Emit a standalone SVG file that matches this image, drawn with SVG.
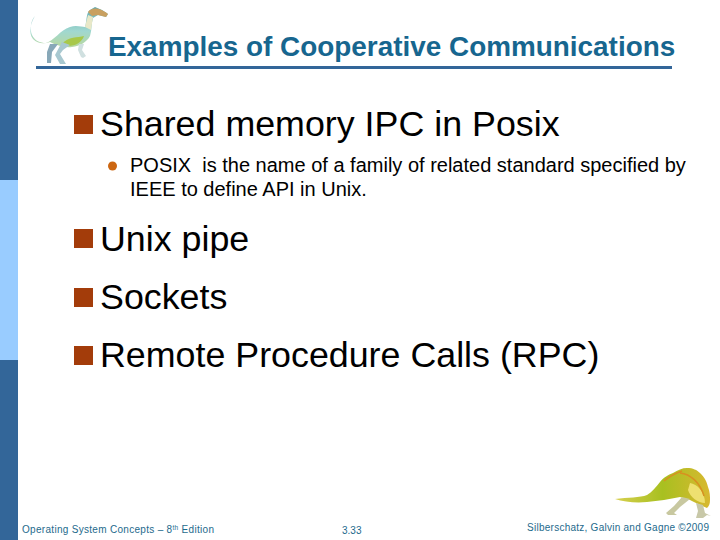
<svg xmlns="http://www.w3.org/2000/svg" width="720" height="540" viewBox="0 0 720 540">
<style>
text{font-family:"Liberation Sans",Arial,sans-serif}
.h{font-size:35.8px;fill:#000}
.s{font-size:20px;fill:#000}
.f{font-size:10px;fill:#1d6a8c}
.b{fill:#a33c0a}
</style>
<defs>
<linearGradient id="g1" x1="0" y1="0" x2="0" y2="1"><stop offset="0" stop-color="#5fa8b0"/><stop offset="0.6" stop-color="#a0d8d0"/><stop offset="1" stop-color="#b8d8a0"/></linearGradient>
<linearGradient id="g2" x1="0" y1="0" x2="1" y2="0"><stop offset="0" stop-color="#d8d050"/><stop offset="0.5" stop-color="#a8c020"/><stop offset="1" stop-color="#d8b830"/></linearGradient>
</defs>
<rect width="720" height="540" fill="#fff"/>
<rect x="0" y="0" width="18" height="180" fill="#336699"/>
<rect x="0" y="180" width="18" height="180" fill="#99ccff"/>
<rect x="0" y="360" width="18" height="180" fill="#336699"/>

<g id="dino-top">
<path d="M35 16C30 22 30 30 32 35C35 41 40 43 46 43C54 41 60 30 70 27C76 25 82 27 85 27C87 20 86 13 90 10L95 7L102 10L108 14L106 17L98 15L93 18C91 24 92 30 90 36C87 42 80 46 72 47C64 48 56 45 50 42C44 44 38 44 33 39C28 33 31 22 35 16Z" fill="url(#g1)"/>
<path d="M62 44C68 36 78 38 84 36C82 42 76 46 68 46Z" fill="#a8c84a"/>
<path d="M88 12C91 8 98 6 108 14L106 17L98 15L92 16Z" fill="#c9a060"/>
<path d="M88 15L93 17L91 30L85 27Z" fill="#e8e8c8"/>
<path d="M62 42L70 45L63 50L60 54L66 64L60 64L55 55Z" fill="#a8c8d0"/>
<path d="M50 44L58 44L52 52L51 63L47 63L47 52Z" fill="#88a8b8"/>
<path d="M79 44L84 44L82 50L86 56L83 58L81 57L78 50Z" fill="#d0e0e0"/>
</g>

<g id="title">
<text x="108" y="56" font-size="27.900" font-weight="bold" fill="#17668f">Examples of Cooperative Communications</text>
<rect x="36" y="66" width="636" height="3" fill="#336699"/>
</g>

<g id="content">
<rect class="b" x="74" y="115" width="19" height="19"/>
<text class="h" x="100" y="136">Shared memory IPC in Posix</text>
<circle cx="112.500" cy="166" r="4.500" fill="#cc6611"/>
<text class="s" x="130" y="172" xml:space="preserve">POSIX  is the name of a family of related standard specified by</text>
<text class="s" x="130" y="196">IEEE to define API in Unix.</text>
<rect class="b" x="74" y="229" width="19" height="19"/>
<text class="h" x="100" y="251">Unix pipe</text>
<rect class="b" x="74" y="288" width="19" height="19"/>
<text class="h" x="100" y="309">Sockets</text>
<rect class="b" x="74" y="346" width="19" height="19"/>
<text class="h" x="100" y="367">Remote Procedure Calls (RPC)</text>
</g>

<g id="dino-bottom">
<path d="M615 499C628 497 640 498 647 495C652 492 656 487 660 482C664 477 668 475 673 473C678 470 682 468 687 468C693 468 697 470 700 473C705 478 707 482 708 487C710 492 710 496 710 500C710 504 709 506 707 508L700 505L690 500L680 497L664 500L647 502C636 503 624 502 615 499Z" fill="url(#g2)"/>
<path d="M690 483C697 484 705 492 705 503C698 503 690 497 688 490Z" fill="#eee070"/>
<path d="M664 481C670 476 676 473 682 471M680 473C690 474 700 482 704 496" fill="none" stroke="#d89020" stroke-width="1.500"/>
<path d="M682 497L690 499L680 507L674 513L677 515L668 515L666 513L674 506Z" fill="#c8c8a0"/>
<path d="M696 503L703 505L705 513L711 516L707 515L703 518L696 518L698 511Z" fill="#c8c8a8"/>
</g>

<g id="footer">
<text class="f" x="22" y="533" textLength="192">Operating System Concepts – 8<tspan font-size="6.500" dy="-3">th</tspan><tspan dy="3"> Edition</tspan></text>
<text class="f" x="342" y="534">3.33</text>
<text class="f" x="527" y="531" textLength="182">Silberschatz, Galvin and Gagne ©2009</text>
</g>
</svg>
